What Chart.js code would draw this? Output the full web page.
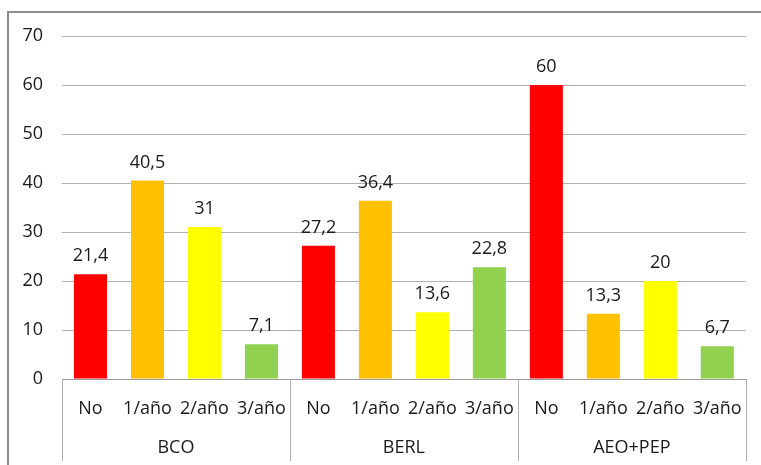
<!DOCTYPE html>
<html>
<head>
<meta charset="utf-8">
<script src="https://cdn.jsdelivr.net/npm/chart.js@4/dist/chart.umd.min.js"></script>
<style>
  html, body { margin: 0; padding: 0; background: #fff; overflow: hidden; }
  #wrap { position: relative; width: 761px; height: 465px; }
  canvas { position: absolute; left: 0; top: 0; }
  #frame {
    position: absolute; left: 7px; top: 11px; width: 800px; height: 500px;
    border-left: 2px solid #8c8c8c; border-top: 2px solid #8c8c8c;
    pointer-events: none;
  }
</style>
</head>
<body>
<div id="wrap">
  <canvas id="chart" width="761" height="465"></canvas>
  <div id="frame"></div>
</div>
<script>
// Survey groups and response frequencies
const groups = ['BCO', 'BERL', 'AEO+PEP'];
const frequencies = ['No', '1/año', '2/año', '3/año'];

// Percentages per group, in the order of `frequencies`
const bcoValues = [21.4, 40.5, 31, 7.1];
const berlValues = [27.2, 36.4, 13.6, 22.8];
const aeoPepValues = [60, 13.3, 20, 6.7];

// Value axis
const yMin = 0;
const yMax = 70;
const yStep = 10;

const frequencyColors = ['#FF0000', '#FFC000', '#FFFF00', '#92D050'];

const FONT = { family: '"Open Sans", "Liberation Sans", sans-serif', size: 18 };
const TEXT_COLOR = '#1a1a1a';

// Flatten groups into one category axis: 4 bars per group
const labels = [];
const values = [];
const colors = [];
[bcoValues, berlValues, aeoPepValues].forEach(groupValues => {
  groupValues.forEach((v, i) => {
    labels.push(frequencies[i]);
    values.push(v);
    colors.push(frequencyColors[i]);
  });
});

const fmt = v => String(v).replace('.', ',');

// Value labels above each bar
const valueLabels = {
  id: 'valueLabels',
  afterDatasetsDraw(chart) {
    const { ctx } = chart;
    const meta = chart.getDatasetMeta(0);
    ctx.save();
    ctx.font = `${FONT.size}px ${FONT.family}`;
    ctx.fillStyle = TEXT_COLOR;
    ctx.textAlign = 'center';
    ctx.textBaseline = 'alphabetic';
    meta.data.forEach((bar, i) => {
      ctx.fillText(fmt(chart.data.datasets[0].data[i]), bar.x, bar.y - 13);
    });
    ctx.restore();
  }
};

// Second row of the category axis: group names and separators
const groupAxis = {
  id: 'groupAxis',
  afterDraw(chart) {
    const { ctx, chartArea, scales: { x } } = chart;
    const n = frequencies.length;
    const half = (x.getPixelForValue(1) - x.getPixelForValue(0)) / 2;
    const bottom = chartArea.bottom;
    ctx.save();
    ctx.strokeStyle = '#b3b3b3';
    ctx.lineWidth = 1;
    for (let g = 0; g <= groups.length; g++) {
      const px = g < groups.length
        ? x.getPixelForValue(g * n) - half
        : x.getPixelForValue(g * n - 1) + half;
      const sx = Math.round(px) + 0.5;
      ctx.beginPath();
      ctx.moveTo(sx, bottom);
      ctx.lineTo(sx, bottom + 82);
      ctx.stroke();
    }
    ctx.font = `${FONT.size}px ${FONT.family}`;
    ctx.fillStyle = TEXT_COLOR;
    ctx.textAlign = 'center';
    ctx.textBaseline = 'middle';
    groups.forEach((name, g) => {
      const cx = (x.getPixelForValue(g * n) + x.getPixelForValue(g * n + n - 1)) / 2;
      ctx.fillText(name, cx, bottom + 69);
    });
    ctx.restore();
  }
};

new Chart(document.getElementById('chart'), {
  type: 'bar',
  data: {
    labels,
    datasets: [{
      data: values,
      backgroundColor: colors,
      borderWidth: 0,
      barPercentage: 0.58,
      categoryPercentage: 1
    }]
  },
  options: {
    responsive: false,
    animation: false,
    layout: { padding: { top: 36, right: 8, bottom: 0, left: 0 } },
    plugins: {
      legend: { display: false },
      tooltip: { enabled: false }
    },
    scales: {
      x: {
        grid: { display: false, drawTicks: false },
        border: { display: true, color: '#9a9a9a', width: 1 },
        ticks: {
          font: FONT, color: TEXT_COLOR, padding: 19,
          maxRotation: 0, autoSkip: false
        },
        afterFit(scale) { scale.height = 86; }
      },
      y: {
        min: yMin, max: yMax,
        grid: { color: '#b0b0b0', lineWidth: 1, drawTicks: false },
        border: { display: false },
        ticks: {
          stepSize: yStep, font: FONT, color: TEXT_COLOR, padding: 19
        },
        afterFit(scale) { scale.width = 62; }
      }
    }
  },
  plugins: [valueLabels, groupAxis]
});
</script>
</body>
</html>
